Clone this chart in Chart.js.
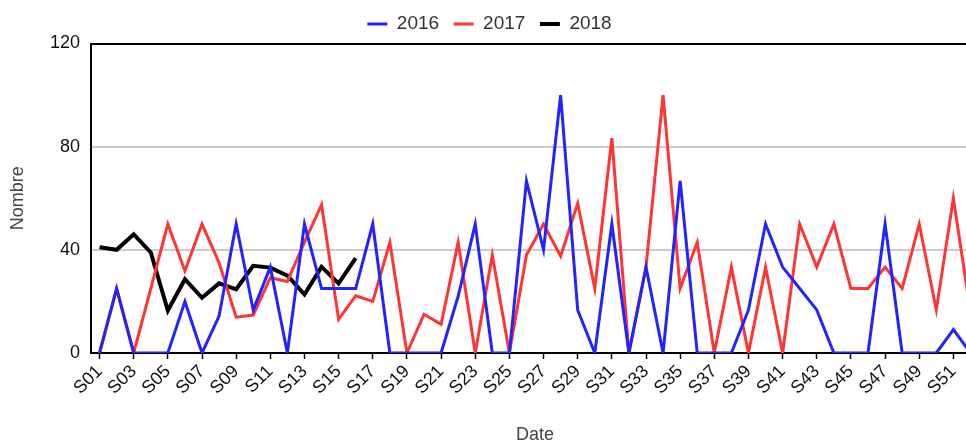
<!DOCTYPE html>
<html>
<head>
    <title>Nombre par semaine</title>
    <script src="https://cdn.jsdelivr.net/npm/chart.js"></script>
    <style>
        html, body {
            margin: 0;
            padding: 0;
            background: #fff;
            overflow: hidden;
        }
        #wrap {
            width: 993px;
            height: 446px;
        }
    </style>
</head>
<body>
    <div id="wrap"><canvas id="weekChart" width="993" height="446"></canvas></div>

    <script>
        // Weeks S01..S52
        const weeks = [];
        for (let i = 1; i <= 52; i++) {
            weeks.push('S' + String(i).padStart(2, '0'));
        }

        const yTicks = [0, 40, 80, 120];

        const values2016 = [0, 25, 0, 0, 0, 20, 0, 14.3, 50, 16.7, 33.3, 0, 50, 25, 25, 25,
            50, 0, 0, 0, 0, 22, 50, 0, 0, 66.7, 40, 100, 16.7, 0, 50, 0, 33.3, 0, 66.7, 0,
            0, 0, 16.7, 50, 33.3, 25, 16.7, 0, 0, 0, 50, 0, 0, 0, 9.1, 0];

        const values2017 = [0, 25, 0, 25, 50, 31.8, 50, 35, 13.9, 14.7, 29.2, 27.7, 43, 57.5, 13, 22.2,
            20, 42.9, 0, 15, 11.1, 42.9, 0, 38, 0, 38, 50, 37.5, 58, 25, 83.3, 0, 33.3, 100, 25, 42.9,
            0, 33.3, 0, 33.3, 0, 50, 33.3, 50, 25, 25, 33.3, 25, 50, 16.7, 60, 16];

        const values2018 = [41, 40, 46, 39, 16.5, 28.6, 21.4, 27, 24.7, 33.8, 33.1, 30, 22.7, 33.4, 27, 36.8];

        const fontFamily = '"Liberation Sans", Arial, sans-serif';
        const tickFont = { family: fontFamily, size: 18 };
        const legendFont = { family: fontFamily, size: 19 };

        const ctx = document.getElementById('weekChart').getContext('2d');

        new Chart(ctx, {
            type: 'line',
            data: {
                labels: weeks,
                datasets: [
                    { label: '2016', data: values2016, borderColor: '#2323ff', backgroundColor: '#2323ff', borderWidth: 3 },
                    { label: '2017', data: values2017, borderColor: '#ff3434', backgroundColor: '#ff3434', borderWidth: 3 },
                    { label: '2018', data: values2018, borderColor: '#000000', backgroundColor: '#000000', borderWidth: 4 }
                ]
            },
            options: {
                responsive: false,
                animation: false,
                layout: { padding: { top: 0, right: 14, bottom: 0, left: 0 } },
                elements: {
                    line: { tension: 0, borderJoinStyle: 'miter', borderCapStyle: 'butt' },
                    point: { radius: 0, hoverRadius: 0 }
                },
                plugins: {
                    legend: {
                        position: 'top',
                        labels: {
                            usePointStyle: true,
                            pointStyle: 'line',
                            pointStyleWidth: 20,
                            color: '#333',
                            font: legendFont,
                            padding: 14.5
                        }
                    },
                    tooltip: { enabled: false }
                },
                scales: {
                    x: {
                        offset: true,
                        afterFit: s => { s.height = 93; },
                        border: { display: true, color: '#000', width: 2 },
                        grid: {
                            drawOnChartArea: false,
                            tickLength: 6,
                            tickWidth: 1.5,
                            tickColor: c => (c.index % 2 === 0 ? '#000' : 'rgba(0,0,0,0)')
                        },
                        ticks: {
                            autoSkip: false,
                            minRotation: 45,
                            maxRotation: 45,
                            padding: 2,
                            color: '#111',
                            font: tickFont,
                            callback: (v, i) => (i % 2 === 0 ? weeks[i] : '')
                        },
                        title: {
                            display: true,
                            text: 'Date',
                            color: '#444',
                            font: tickFont,
                            padding: { top: 0, bottom: 0 }
                        }
                    },
                    y: {
                        min: 0,
                        max: 120,
                        afterFit: s => { s.width = 91; },
                        afterBuildTicks: s => { s.ticks = yTicks.map(v => ({ value: v })); },
                        border: { display: true, color: '#000', width: 2 },
                        grid: {
                            color: c => (c.tick && c.tick.value === 120 ? '#000' : '#cccccc'),
                            lineWidth: 2,
                            drawTicks: false
                        },
                        ticks: {
                            padding: 11,
                            color: '#111',
                            font: tickFont
                        },
                        title: {
                            display: true,
                            text: 'Nombre',
                            color: '#444',
                            font: tickFont,
                            padding: { top: 7, bottom: 4 }
                        }
                    }
                }
            }
        });
    </script>
</body>
</html>
